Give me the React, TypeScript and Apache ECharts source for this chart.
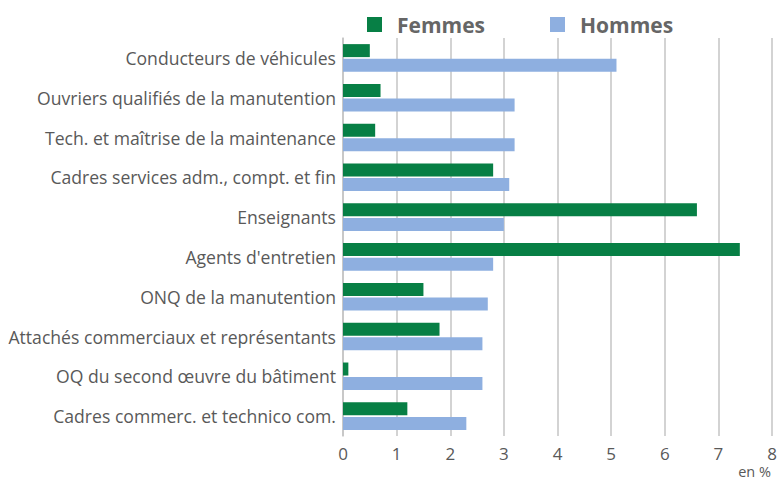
import React, { useEffect, useRef } from "react";
import * as echarts from "echarts";

const categories = [
  "Conducteurs de véhicules",
  "Ouvriers qualifiés de la manutention",
  "Tech. et maîtrise de la maintenance",
  "Cadres services adm., compt. et fin",
  "Enseignants",
  "Agents d'entretien",
  "ONQ de la manutention",
  "Attachés commerciaux et représentants",
  "OQ du second œuvre du bâtiment",
  "Cadres commerc. et technico com.",
];
const femmes = [0.5, 0.7, 0.6, 2.8, 6.6, 7.4, 1.5, 1.8, 0.1, 1.2];
const hommes = [5.1, 3.2, 3.2, 3.1, 3.0, 2.8, 2.7, 2.6, 2.6, 2.3];
const xTicks = [0, 1, 2, 3, 4, 5, 6, 7, 8];
const unitLabel = "en %";

export default function App() {
  const ref = useRef<HTMLDivElement>(null);
  useEffect(() => {
    if (!ref.current) return;
    const chart = echarts.init(ref.current, undefined, { renderer: "svg" });
    const font = "'Open Sans', sans-serif";
    chart.setOption({
      animation: false,
      textStyle: { fontFamily: font },
      legend: {
        left: 362,
        top: 9,
        itemWidth: 15,
        itemHeight: 15,
        itemGap: 65,
        icon: "rect",
        textStyle: {
          fontFamily: font,
          fontSize: 21,
          fontWeight: "bold",
          color: "#666666",
          padding: [0, 0, 0, 10],
        },
        data: ["Femmes", "Hommes"],
      },
      graphic: [
        {
          type: "text",
          right: 9,
          top: 464,
          style: {
            text: unitLabel,
            fontFamily: font,
            fontSize: 14.5,
            fill: "#595959",
          },
        },
      ],
      grid: {
        left: 343,
        right: 8,
        top: 38,
        bottom: 44,
        containLabel: false,
        outerBoundsMode: "none",
      },
      xAxis: {
        type: "value",
        min: xTicks[0],
        max: xTicks[xTicks.length - 1],
        interval: 1,
        axisLine: { show: false },
        axisTick: { show: false },
        splitLine: { show: true, lineStyle: { color: "#c4c4c4", width: 1.5 } },
        axisLabel: { fontFamily: font, fontSize: 17, color: "#595959", margin: 9 },
      },
      yAxis: {
        type: "category",
        data: categories,
        inverse: true,
        axisLine: { show: true, lineStyle: { color: "#c4c4c4", width: 1.5 } },
        axisTick: { show: false },
        axisLabel: { fontFamily: font, fontSize: 17.6, color: "#595959", margin: 7 },
      },
      series: [
        {
          name: "Femmes",
          type: "bar",
          data: femmes,
          barWidth: 13,
          barGap: "12%",
          itemStyle: { color: "#077f45" },
        },
        {
          name: "Hommes",
          type: "bar",
          data: hommes,
          barWidth: 13,
          itemStyle: { color: "#8eafe0" },
        },
      ],
    });
    return () => chart.dispose();
  }, []);
  return (
    <div
      ref={ref}
      style={{ position: "absolute", left: 0, top: 0, width: 780, height: 480 }}
    />
  );
}
